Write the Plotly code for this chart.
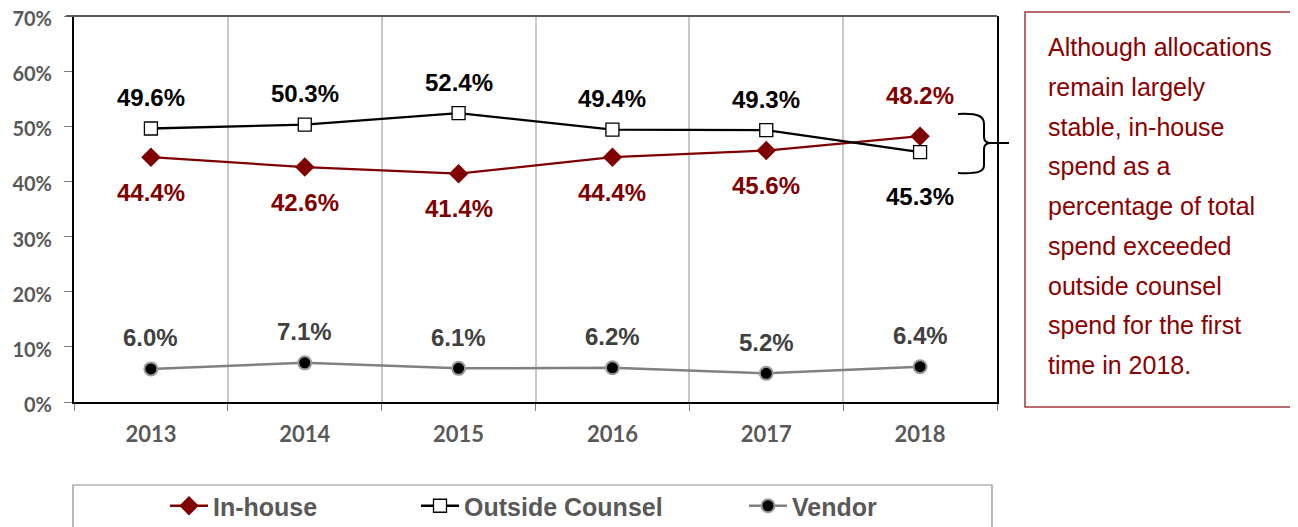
import plotly.graph_objects as go

years = ["2013", "2014", "2015", "2016", "2017", "2018"]
in_house = [44.4, 42.6, 41.4, 44.4, 45.6, 48.2]
outside_counsel = [49.6, 50.3, 52.4, 49.4, 49.3, 45.3]
vendor = [6.0, 7.1, 6.1, 6.2, 5.2, 6.4]
y_ticks = [0, 10, 20, 30, 40, 50, 60, 70]
note_lines = ["Although allocations", "remain largely", "stable, in-house",
              "spend as a", "percentage of total", "spend exceeded",
              "outside counsel", "spend for the first", "time in 2018."]

RED = "#7f0000"
GREY_TXT = "#595959"
# page body has an 8px margin, so the figure is laid out 8px up/left of screen coords
SHIFT = 8
LEFT, TOP, RIGHT, BOTTOM = 74 - SHIFT, 16 - SHIFT, 997 - SHIFT, 402 - SHIFT
PW, PH = RIGHT - LEFT, BOTTOM - TOP


def px(x):
    return (x - SHIFT - LEFT) / PW


def py(y):
    return (BOTTOM - (y - SHIFT)) / PH


LEG_FONT = dict(family="Liberation Sans, Arial", size=25, color=GREY_TXT, weight="bold")

fig = go.Figure()
fig.add_trace(go.Scatter(
    x=years, y=in_house, name="In-house", mode="lines+markers",
    line=dict(color=RED, width=2.3),
    marker=dict(symbol="diamond", size=15, color=RED),
    legend="legend"))
fig.add_trace(go.Scatter(
    x=years, y=outside_counsel, name="Outside Counsel", mode="lines+markers",
    line=dict(color="black", width=2.3),
    marker=dict(symbol="square", size=13, color="white",
                line=dict(color="black", width=1.3)),
    legend="legend2"))
fig.add_trace(go.Scatter(
    x=years, y=vendor, name="Vendor", mode="lines+markers",
    line=dict(color="#808080", width=2.5),
    marker=dict(symbol="circle", size=13, color="black",
                line=dict(color="#9a9a9a", width=2)),
    legend="legend3"))

annotations = []
LABEL_FONT = dict(family="Liberation Sans, Arial", size=24, weight="bold")
for i, yr in enumerate(years):
    ih, oc, vd = in_house[i], outside_counsel[i], vendor[i]
    ih_above = ih > oc
    annotations.append(dict(x=i, y=oc, xref="x", yref="y", text=f"{oc:.1f}%",
                            showarrow=False, yshift=-44 if ih_above else 31,
                            font=dict(LABEL_FONT, color="black")))
    annotations.append(dict(x=i, y=ih, xref="x", yref="y", text=f"{ih:.1f}%",
                            showarrow=False, yshift=41 if ih_above else -35,
                            font=dict(LABEL_FONT, color=RED)))
    annotations.append(dict(x=i, y=vd, xref="x", yref="y", text=f"{vd:.1f}%",
                            showarrow=False, yshift=31,
                            font=dict(LABEL_FONT, color="#404040")))

for k, line in enumerate(note_lines):
    annotations.append(dict(x=px(1046), y=py(47 + k * 39.75), xref="paper", yref="paper",
                            xanchor="left", yanchor="middle", showarrow=False,
                            text=line, align="left",
                            font=dict(family="Liberation Sans, Arial", size=25, color="#8b0000")))


def pt(x, y):
    return f"{px(x):.5f},{py(y):.5f}"


brace = (f"M{pt(958,114)} C{pt(980,113)} {pt(984,117)} {pt(984,124)} L{pt(984,137)} "
         f"Q{pt(984,143)} {pt(991,143)} Q{pt(984,143)} {pt(984,149)} L{pt(984,165)} "
         f"C{pt(984,171)} {pt(980,174)} {pt(958,173)} M{pt(991,143)} L{pt(1009,143)}")

shapes = [
    dict(type="line", xref="paper", yref="paper", x0=px(66), x1=1, y0=1, y1=1,
         line=dict(color=GREY_TXT, width=2)),
    dict(type="rect", xref="paper", yref="paper", x0=px(1025), x1=px(1295),
         y0=py(407), y1=py(12), line=dict(color="#a33a3f", width=1.5)),
    dict(type="rect", xref="paper", yref="paper", x0=px(73), x1=px(992),
         y0=py(545), y1=py(485), line=dict(color="#8c8c8c", width=1.2)),
    dict(type="path", xref="paper", yref="paper", path=brace,
         line=dict(color="black", width=2)),
]

fig.update_layout(
    width=1298, height=527,
    margin=dict(l=LEFT, r=1298 - RIGHT, t=TOP, b=527 - BOTTOM, pad=0, autoexpand=False),
    paper_bgcolor="white", plot_bgcolor="white",
    annotations=annotations,
    shapes=shapes,
    xaxis=dict(type="category", range=[-0.5, 5.5], showgrid=True, gridcolor="#c8c8c8",
               gridwidth=1.5, tickson="boundaries", ticks="outside", ticklen=7,
               tickcolor="#7f7f7f", showline=True, linecolor="black", linewidth=2,
               ticklabelstandoff=12, automargin=False, ticklabeloverflow="allow",
               tickfont=dict(family="Lato, Open Sans", size=22, color=GREY_TXT, weight="bold"),
               zeroline=False, fixedrange=True),
    yaxis=dict(range=[0, 70], tickvals=y_ticks, ticktext=[f"{v}%" for v in y_ticks],
               showgrid=False, automargin=False, ticklabeloverflow="allow",
               ticks="outside", ticklen=8, tickcolor="#7f7f7f", showline=True,
               linecolor="black", linewidth=2, mirror=True, ticklabelstandoff=8,
               ticklabelshift=3,
               tickfont=dict(family="Lato, Open Sans", size=20, color=GREY_TXT, weight="bold"),
               zeroline=False, fixedrange=True),
    showlegend=True,
    legend=dict(x=px(165), y=py(506), xanchor="left", yanchor="middle", itemwidth=38,
                orientation="h", bgcolor="rgba(0,0,0,0)", font=LEG_FONT),
    legend2=dict(x=px(416), y=py(506), xanchor="left", yanchor="middle", itemwidth=38,
                 orientation="h", bgcolor="rgba(0,0,0,0)", font=LEG_FONT),
    legend3=dict(x=px(744), y=py(506), xanchor="left", yanchor="middle", itemwidth=38,
                 orientation="h", bgcolor="rgba(0,0,0,0)", font=LEG_FONT),
)

fig.write_html("out.html")
